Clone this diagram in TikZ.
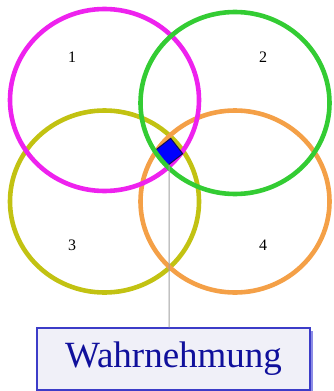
\documentclass[tikz,border=0pt]{standalone}
\usepackage{fontspec}
\setmainfont{Liberation Serif}
\usetikzlibrary{positioning,shapes.geometric,shadows}
\definecolor{ringmag}{HTML}{EE22EE}
\definecolor{ringgrn}{HTML}{33CC33}
\definecolor{ringyel}{HTML}{C2C212}
\definecolor{ringorg}{HTML}{F4A047}
\definecolor{boxedge}{HTML}{3C3CC8}
\definecolor{boxfill}{HTML}{F0F0F8}
\definecolor{boxshade}{HTML}{8C8CE6}
\definecolor{txtblue}{HTML}{10109C}
\definecolor{spotedge}{HTML}{101050}

\begin{document}
\begin{tikzpicture}[x=1pt,y=-1pt,
  ring/.style={line width=4.6pt},
  num/.style={font=\fontsize{16}{16}\selectfont},
  spot/.style={diamond,draw=spotedge,fill=blue,line width=1pt,minimum size=28pt,inner sep=0pt,rotate=-7},
  tag/.style={draw=boxedge,fill=boxfill,line width=1.2pt,text=txtblue,font=\fontsize{37}{37}\selectfont,
    minimum width=273pt,minimum height=62pt,inner sep=0pt,
    drop shadow={shadow xshift=3pt,shadow yshift=-3pt,fill=boxshade,opacity=1}}]
\useasboundingbox (0,0) rectangle (333,391);
\draw[ring,ringyel] (104.5,201.5) ellipse [x radius=94.5, y radius=91];
\draw[ring,ringorg] (235,201.5) ellipse [x radius=94.5, y radius=91];
\draw[ring,ringmag] (104.5,100) ellipse [x radius=94.5, y radius=91];
\node[spot] (p) at (169,152) {};
\draw[ring,ringgrn] (235,103) ellipse [x radius=94.5, y radius=91];
% region numbers
\node[num] (n1) at (72,57) {1}; \node[num] (n2) at (263,57) {2};
\node[num] (n3) at (72,245) {3}; \node[num] (n4) at (263,245) {4};
% callout
\node[tag] (w) at (173.5,359) {Wahrnehmung};
\draw[gray!75,line width=1pt] (p) -- (p |- w.north);
\end{tikzpicture}
\end{document}
